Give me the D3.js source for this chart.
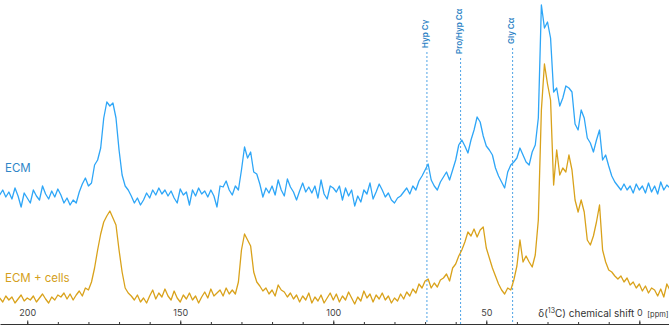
<!DOCTYPE html>
<html>
<head>
<meta charset="utf-8">
<script src="https://cdn.jsdelivr.net/npm/d3@7"></script>
<style>
  body { margin: 0; background: #fff; }
  svg { display: block; font-family: Inter, "Open Sans", sans-serif; }
</style>
</head>
<body>
<div id="chart"></div>
<script>

// chemical shift grid, 1 ppm steps from 209 down to -10
var ppm = d3.range(209, -11, -1);

// ECM spectrum (arbitrary intensity units)
var ecm = [
  15,20,13,18,11,22,14,3,17,12,
  7,20,14,10,24,16,11,19,13,21,
  15,7,12,5,10,7,18,26,32,24,
  27,45,50,62,92,108,104,107,92,60,
  35,24,20,14,7,12,5,10,
  17,12,20,15,22,16,20,14,19,12,7,21,15,18,5,20,14,22,16,19,13,20,14,3,24,
  23,29,20,15,24,20,40,63,52,58,38,36,26,13,22,17,24,15,30,20,14,31,23,18,10,19,27,18,23,17,24,12,30,16,11,24,
  22,18,24,10,22,14,20,4,14,8,20,16,27,11,18,26,20,13,17,10,7,12,14,18,22,16,24,20,29,34,40,46,30,24,20,28,
  33,38,30,40,50,65,70,64,57,70,80,93,88,74,64,60,55,42,34,28,22,38,45,48,52,62,55,48,45,58,65,92,
  205,182,188,172,118,122,104,112,124,122,118,86,80,100,92,72,67,58,70,80,50,55,44,34,28,24,20,26,20,24,17,26,20,24,17,27,18,24,16,28,20,25,22
];

// ECM + cells spectrum
var cells = [
  7,3,9,5,8,2,6,10,4,7,
  5,9,3,7,11,6,2,8,5,10,
  8,12,6,11,5,10,14,9,17,15,
  23,37,55,71,83,89,94,87,80,55,
  33,17,12,9,5,
  10,3,7,2,9,15,6,12,8,16,9,5,14,7,3,10,6,12,5,9,2,8,13,7,16,9,12,15,
  9,17,11,15,11,23,55,71,65,59,33,23,19,14,17,11,15,9,20,15,13,8,12,6,10,3,9,5,12,2,8,4,10,2,7,12,
  5,11,3,9,5,13,7,1,8,4,14,7,11,3,10,6,12,5,9,2,7,4,11,6,13,9,16,12,21,17,24,26,17,22,18,25,
  27,31,24,37,41,49,55,63,73,69,76,68,75,78,57,47,37,29,21,15,11,17,15,25,39,65,43,49,43,38,50,85,
  195,241,221,205,120,155,130,137,133,150,135,105,93,105,93,65,60,69,83,100,55,43,35,33,29,26,29,23,27,20,23,17,21,14,19,12,17,15,9,16,8,21,15
];

var markerNames = ["Hyp C\u03b3", "Pro/Hyp C\u03b1", "Gly C\u03b1"];
var markerShifts = [69.4, 58.4, 41.4];
var majorTicks = [200, 150, 100, 50, 0];
var minorTicks = d3.range(200, -1, -10);

var width = 669, height = 328;
var axisY = 324;

var svg = d3.select("#chart").append("svg")
  .attr("width", width)
  .attr("height", height);

var x = d3.scaleLinear().domain([208.9, -9.7]).range([0, width]);
var yEcm = d3.scaleLinear().domain([0, 210]).range([210, 0]);
var yCells = d3.scaleLinear().domain([0, 305]).range([305, 0]);

//Marker lines and labels
var markerTop = [52, 58, 48];
var markers = svg.append("g").attr("class", "markers");
markerShifts.forEach(function(s, i) {
  var mx = x(s);
  markers.append("line")
    .attr("x1", mx).attr("x2", mx)
    .attr("y1", markerTop[i]).attr("y2", axisY)
    .attr("stroke", "#4ea3e6")
    .attr("stroke-width", 1)
    .attr("stroke-dasharray", "2,2");
  markers.append("text")
    .attr("transform", "translate(" + (mx + 1) + "," + (markerTop[i] - 4) + ") rotate(-90)")
    .attr("font-size", 8)
    .attr("font-weight", 600)
    .attr("fill", "#2a7fc4")
    .text(markerNames[i]);
});

//Spectra
var lineEcm = d3.line()
  .x(function(d, i) { return x(ppm[i]); })
  .y(function(d) { return yEcm(d); });
var lineCells = d3.line()
  .x(function(d, i) { return x(ppm[i]); })
  .y(function(d) { return yCells(d); });

svg.append("path").datum(cells)
  .attr("d", lineCells)
  .attr("fill", "none")
  .attr("stroke", "#d9a21b")
  .attr("stroke-width", 1.3)
  .attr("stroke-linejoin", "round");

svg.append("path").datum(ecm)
  .attr("d", lineEcm)
  .attr("fill", "none")
  .attr("stroke", "#2ea6f7")
  .attr("stroke-width", 1.3)
  .attr("stroke-linejoin", "round");

//Series labels
svg.append("text").attr("x", 5).attr("y", 172)
  .attr("font-size", 11.5).attr("fill", "#2f86c8").text("ECM");
svg.append("text").attr("x", 5).attr("y", 282)
  .attr("font-size", 11.5).attr("fill", "#d4a020").text("ECM + cells");

//Axis
var minorAxis = d3.axisTop(x).tickValues(minorTicks).tickSize(2).tickSizeOuter(0).tickFormat("");
var majorAxis = d3.axisTop(x).tickValues(majorTicks).tickSize(3.5).tickSizeOuter(0).tickPadding(5);

svg.append("g").attr("transform", "translate(0," + axisY + ")").call(minorAxis)
  .call(function(g) { g.select(".domain").attr("stroke", "#333"); })
  .selectAll(".tick line").attr("stroke", "#333");

var gMajor = svg.append("g").attr("transform", "translate(0," + axisY + ")").call(majorAxis);
gMajor.select(".domain").remove();
gMajor.selectAll(".tick line").attr("stroke", "#333");
gMajor.selectAll(".tick text")
  .attr("font-family", "Inter, sans-serif")
  .attr("font-size", 9)
  .attr("fill", "#444");

var title = svg.append("text")
  .attr("x", x(0) - 5).attr("y", 317)
  .attr("text-anchor", "end")
  .attr("font-size", 10)
  .attr("fill", "#333");
title.append("tspan").text("\u03b4(");
title.append("tspan").attr("font-size", 7).attr("dy", -4).text("13");
title.append("tspan").attr("dy", 4).text("C) chemical shift");

svg.append("text")
  .attr("x", x(0) + 8).attr("y", 317)
  .attr("font-size", 7.5)
  .attr("fill", "#333")
  .text("[ppm]");

</script>
</body>
</html>
